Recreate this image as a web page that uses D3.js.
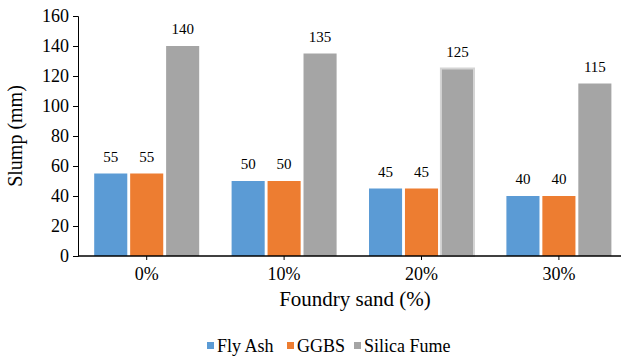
<!DOCTYPE html>
<html>
<head>
<meta charset="utf-8">
<script src="https://cdn.jsdelivr.net/npm/d3@7"></script>
</head>
<body style="margin:0">
<svg></svg>
<script>
const w = 621
const h = 360
const font = 'Liberation Serif, Times New Roman, serif'

// data
const categories = ['0%', '10%', '20%', '30%']
const seriesNames = ['Fly Ash', 'GGBS', 'Silica Fume']
const flyAsh = [55, 50, 45, 40]
const ggbs = [55, 50, 45, 40]
const silicaFume = [140, 135, 125, 115]
const yTicks = [0, 20, 40, 60, 80, 100, 120, 140, 160]
const colors = ['#5B9BD5', '#ED7D31', '#A5A5A5']

const seriesValues = [flyAsh, ggbs, silicaFume]

const svg = d3.select('svg')
  .attr('width', w)
  .attr('height', h)
  .style('display', 'block')
  .style('font-family', font);

const margin = {top: 16, right: 0, bottom: 104, left: 78};
const band = 137.4; // category width, the axis runs past the right edge
const innerWidth = band * categories.length;
const innerHeight = h - margin.top - margin.bottom;

const g = svg.append('g')
  .attr('transform', `translate(${margin.left}, ${margin.top})`);

const xScale = d3.scaleBand()
  .domain(categories)
  .range([0, innerWidth]);

const xSub = d3.scaleBand()
  .domain(seriesNames)
  .range([0, 105])
  .paddingInner(0.08);

const yScale = d3.scaleLinear()
  .domain([0, 160])
  .range([innerHeight, 0]);

// y axis
const yAxis = d3.axisLeft(yScale)
  .tickValues(yTicks)
  .tickSize(5)
  .tickPadding(4);

const yAxisG = g.append('g').call(yAxis).attr('font-family', font);
yAxisG.selectAll('line, path').attr('stroke', '#000');

// bars
const groupOffset = (xScale.bandwidth() - 105) / 2;
seriesNames.forEach((name, si) => {
  g.selectAll('.bar-' + si)
    .data(categories.map((c, i) => ({c, v: seriesValues[si][i], i})))
    .enter().append('rect')
      .attr('x', d => xScale(d.c) + groupOffset + xSub(name))
      .attr('y', d => yScale(d.v))
      .attr('width', xSub.bandwidth())
      .attr('height', d => innerHeight - yScale(d.v))
      .attr('fill', colors[si])
      .attr('stroke', d => (si === 2 && d.i === 2) ? '#d4d4d4' : 'none')
      .attr('stroke-width', 2);

  g.selectAll('.lbl-' + si)
    .data(categories.map((c, i) => ({c, v: seriesValues[si][i]})))
    .enter().append('text')
      .attr('class', 'lbl')
      .attr('x', d => xScale(d.c) + groupOffset + xSub(name) + xSub.bandwidth() / 2)
      .attr('y', d => yScale(d.v) - 12)
      .attr('text-anchor', 'middle')
      .text(d => d.v);
});

// x axis
const xAxis = d3.axisBottom(xScale)
  .tickSize(4)
  .tickPadding(7);

const xAxisG = g.append('g').call(xAxis)
  .attr('transform', `translate(0, ${innerHeight})`)
  .attr('font-family', font);
xAxisG.selectAll('line').attr('stroke', '#000');
xAxisG.select('.domain')
  .attr('d', `M0,0H${innerWidth}`)
  .attr('stroke', '#000')
  .attr('stroke-width', 1.5);

// axis titles
svg.append('text')
  .attr('class', 'ytitle')
  .attr('transform', `translate(22, ${margin.top + innerHeight / 2}) rotate(-90)`)
  .attr('text-anchor', 'middle')
  .text('Slump (mm)');

svg.append('text')
  .attr('class', 'xtitle')
  .attr('x', 355)
  .attr('y', 306)
  .attr('text-anchor', 'middle')
  .text('Foundry sand (%)');

// legend
const legendX = [207, 287, 354];
const legend = svg.append('g');
seriesNames.forEach((name, i) => {
  legend.append('rect')
    .attr('x', legendX[i])
    .attr('y', 342)
    .attr('width', 7)
    .attr('height', 7)
    .attr('fill', colors[i]);
  legend.append('text')
    .attr('class', 'leg')
    .attr('x', legendX[i] + 10)
    .attr('y', 352)
    .text(name);
});

// fonts set on every text directly
svg.selectAll('text')
  .style('font-family', font)
  .attr('fill', '#000')
  .attr('font-size', '18px');
svg.selectAll('text.lbl').attr('font-size', '15px');
svg.selectAll('text.ytitle').attr('font-size', '20px');
svg.selectAll('text.xtitle').attr('font-size', '21px');
</script>
</body>
</html>
